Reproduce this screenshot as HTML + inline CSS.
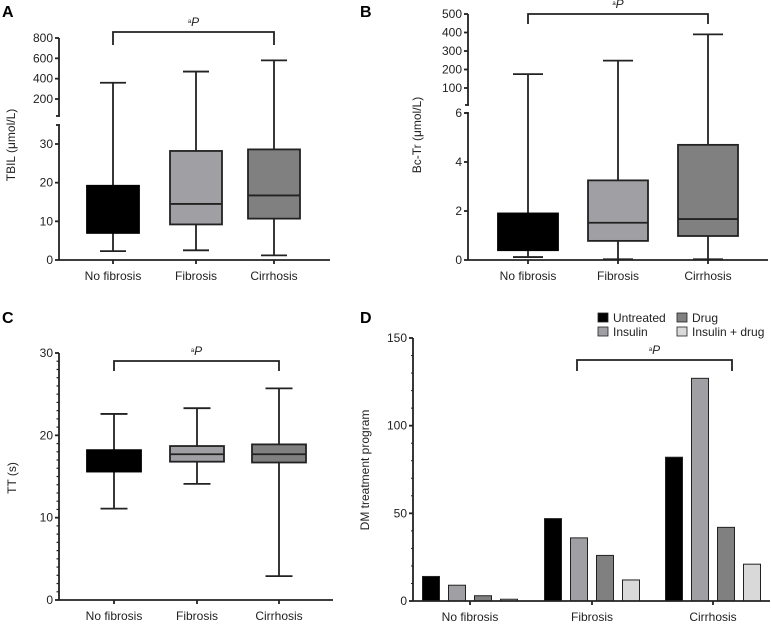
<!DOCTYPE html>
<html><head><meta charset="utf-8"><style>
html,body{margin:0;padding:0;background:#fff;}
svg{display:block;font-family:"Liberation Sans","DejaVu Sans",sans-serif;}
</style></head><body>
<svg id="fig" width="771" height="624" viewBox="0 0 771 624" xmlns="http://www.w3.org/2000/svg">
<g font-weight="bold" font-size="16" fill="#000">
<text x="2" y="17">A</text>
<text x="360" y="17">B</text>
<text x="2" y="323">C</text>
<text x="360" y="323">D</text>
</g>
<g font-size="12" fill="#222">
<text transform="translate(15,145) rotate(-90)" text-anchor="middle">TBIL (μmol/L)</text>
<text transform="translate(421,135) rotate(-90)" text-anchor="middle">Bc-Tr (μmol/L)</text>
<text transform="translate(16,478) rotate(-90)" text-anchor="middle">TT (s)</text>
<text transform="translate(369,470) rotate(-90)" text-anchor="middle">DM treatment program</text>
</g>
<g id="plots"></g>
</svg>
<script>
// ---- Data ----
const categories = ["No fibrosis","Fibrosis","Cirrhosis"];
const boxColors = ["#000000","#a0a0a4","#808080"];
// Panel A: TBIL [min,q1,median,q3,max]
const tbilMin=[2.3,2.5,1.2], tbilQ1=[7,9.2,10.7], tbilMed=[10.3,14.5,16.7], tbilQ3=[19.2,28.2,28.6], tbilMax=[360,470,580];
const tbilLowTicks=[0,10,20,30], tbilHighTicks=[200,400,600,800];
// Panel B: Bc-Tr
const bcMin=[0.12,0.03,0.03], bcQ1=[0.4,0.78,0.98], bcMed=[1.0,1.52,1.67], bcQ3=[1.9,3.25,4.7], bcMax=[175,248,390];
const bcLowTicks=[0,2,4,6], bcHighTicks=[100,200,300,400,500];
// Panel C: TT
const ttMin=[11.1,14.1,2.9], ttQ1=[15.6,16.8,16.7], ttMed=[17,17.7,17.7], ttQ3=[18.2,18.7,18.9], ttMax=[22.6,23.3,25.7];
const ttTicks=[0,10,20,30];
// Panel D: DM treatment
const seriesNames=["Untreated","Insulin","Drug","Insulin + drug"];
const untreated=[14,47,82], insulin=[9,36,127], drug=[3,26,42], insulinDrug=[1,12,21];
const dmTicks=[0,50,100,150];
const seriesColors=["#000000","#a0a0a4","#808080","#d9d9d9"];

const NS="http://www.w3.org/2000/svg";
const root=document.getElementById('plots');
function mk(tag,attrs,parent){const e=document.createElementNS(NS,tag);for(const k in attrs)e.setAttribute(k,attrs[k]);(parent||root).appendChild(e);return e;}
function line(x1,y1,x2,y2,p,w,c){return mk('line',{x1,y1,x2,y2,stroke:c||'#222','stroke-width':w||1.8},p);}
function txt(x,y,s,anchor,p,size){const t=mk('text',{x,y,'text-anchor':anchor||'middle','font-size':size||12,fill:'#222'},p);t.textContent=s;return t;}

function brokenScale(lowMax,y0,yLowVal,lowRefVal,highA,yHA,highB,yHB){
  return v=> v<=lowMax ? y0+(yLowVal-y0)*v/lowRefVal : yHA+(yHB-yHA)*(v-highA)/(highB-highA);
}

function boxPanel(name,xs,hw,y,mins,q1,med,q3,maxs){
  const g=mk('g',{});
  
  
  for(let i=0;i<xs.length;i++){
    const b=mk('g',{},g);
    
    
    const x=xs[i];
    line(x,y(maxs[i]),x,y(q3[i]),b); line(x,y(q1[i]),x,y(mins[i]),b);
    line(x-hw/2,y(maxs[i]),x+hw/2,y(maxs[i]),b); line(x-hw/2,y(mins[i]),x+hw/2,y(mins[i]),b);
    mk('rect',{x:x-hw,y:y(q3[i]),width:2*hw,height:y(q1[i])-y(q3[i]),fill:boxColors[i],stroke:i===0?'#000':'#222','stroke-width':1.8},b);
    line(x-hw,y(med[i]),x+hw,y(med[i]),b,1.8,i===0?'#000':'#222');
  }
}
function xAxis(name,x0,x1,y0,xs){
  const g=mk('g',{});
  
  
  line(x0,y0,x1,y0,g);
  xs.forEach((x,i)=>{line(x,y0,x,y0+4,g);txt(x,y0+20,categories[i],'middle',g);});
}
function bracket(name,xa,xb,yt,yb){
  const g=mk('g',{});
  
  
  mk('path',{d:`M${xa},${yb}V${yt}H${xb}V${yb}`,fill:'none',stroke:'#222','stroke-width':1.8},g);
  const t=txt((xa+xb)/2,yt-6,'','middle',g,12);
  const s=mk('tspan',{'font-size':6,dy:-3},t); s.textContent='a';
  const p=mk('tspan',{'font-style':'italic',dy:3},t); p.textContent='P';
}
function yAxisSeg(g,x,ya,yb){line(x,ya,x,yb,g);}
function yTicks(g,x,vals,y){vals.forEach(v=>{line(x-4,y(v),x,y(v),g);txt(x-6,y(v)+4,String(v),'end',g);});}

// ---- Panel A ----
const yA=brokenScale(35,260,144,30,200,99,800,38);
{const ax=59, xs=[113,196,274];
 const g=mk('g',{});
 
 
 yAxisSeg(g,ax,260,125); yAxisSeg(g,ax,116,38);
 line(ax-3,125,ax+1,125,g); line(ax-3,116,ax+1,116,g);
 yTicks(g,ax,tbilLowTicks,yA); yTicks(g,ax,tbilHighTicks,yA);
 boxPanel('a',xs,26,yA,tbilMin,tbilQ1,tbilMed,tbilQ3,tbilMax);
 xAxis('a',ax,330,260,xs);
 bracket('a',113,274,32,45);}

// ---- Panel B ----
const yB=brokenScale(6.5,260,211,2,100,88,500,14);
{const ax=468, xs=[528,618,708];
 const g=mk('g',{});
 
 
 yAxisSeg(g,ax,260,113); yAxisSeg(g,ax,105,14);
 line(ax-3,113,ax+1,113,g); line(ax-3,105,ax+1,105,g);
 yTicks(g,ax,bcLowTicks,yB); yTicks(g,ax,bcHighTicks,yB);
 boxPanel('b',xs,30,yB,bcMin,bcQ1,bcMed,bcQ3,bcMax);
 xAxis('b',ax,768,260,xs);
 bracket('b',528,708,14,24);}

// ---- Panel C ----
const yC=v=>600-(600-353)*v/30;
{const ax=59, xs=[114,197,279];
 const g=mk('g',{});
 
 
 yAxisSeg(g,ax,600,353);
 for(let v=0;v<=30;v++) line(ax-2.5,yC(v),ax,yC(v),g,1.2);
 yTicks(g,ax,ttTicks,yC);
 boxPanel('c',xs,27,yC,ttMin,ttQ1,ttMed,ttQ3,ttMax);
 xAxis('c',ax,333,600,xs);
 bracket('c',114,279,361,371);}

// ---- Panel D ----
const yD=v=>601-(601-338)*v/150;
{const ax=413, xs=[470,592,713];
 const g=mk('g',{});
 
 
 yAxisSeg(g,ax,601,338);
 for(let v=0;v<=150;v+=10) line(ax-2,yD(v),ax,yD(v),g,1);
 yTicks(g,ax,dmTicks,yD);
 const series=[untreated,insulin,drug,insulinDrug];
 const offs=[-39,-13,13,39], bw=17;
 series.forEach((s,si)=>{
   s.forEach((v,ci)=>{
     const r=mk('rect',{x:xs[ci]+offs[si]-bw/2,y:yD(v),width:bw,height:yD(0)-yD(v),fill:seriesColors[si],stroke:'#222','stroke-width':1});
     
     
   });
 });
 xAxis('d',ax,770,601,xs);
 bracket('d',577,732,360,371);
 const lg=mk('g',{});
 
 
 const lx=[598,598,677,677], ly=[313,327,313,327];
 [0,1,2,3].forEach(i=>{
   const e=mk('g',{},lg);
   
   
   mk('rect',{x:lx[i],y:ly[i],width:10,height:9,fill:seriesColors[i],stroke:'#222','stroke-width':0.8},e);
   txt(lx[i]+15,ly[i]+9,seriesNames[i],'start',e,12);
 });}
</script>
</body></html>
